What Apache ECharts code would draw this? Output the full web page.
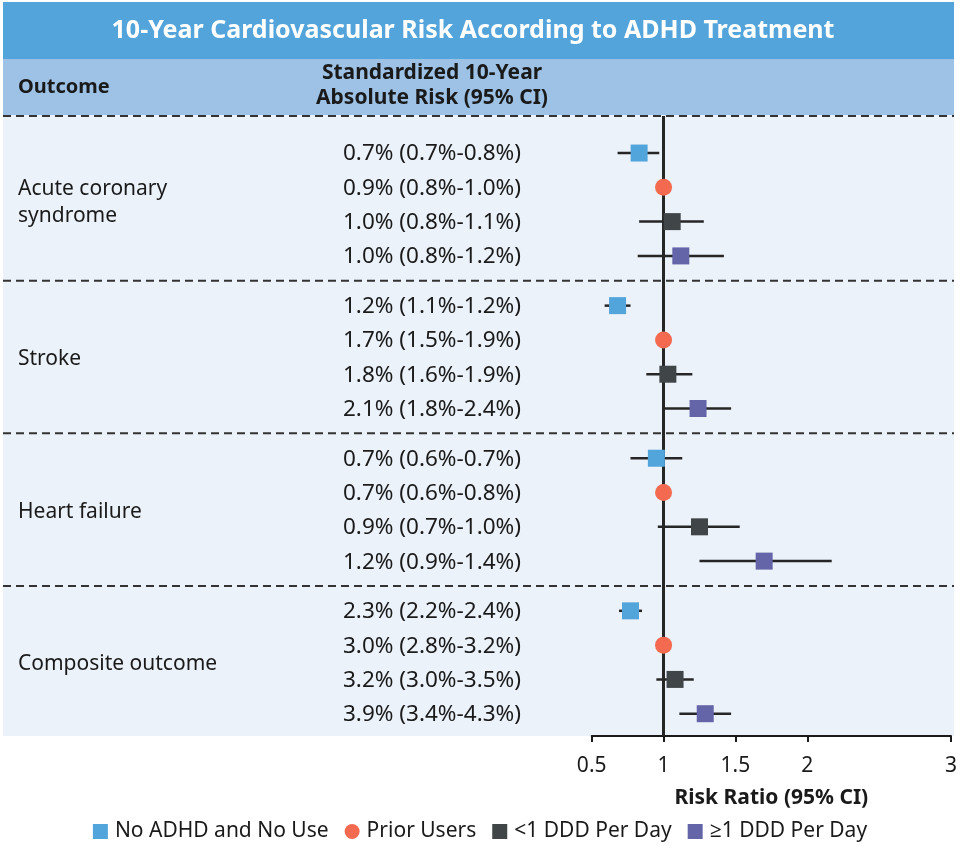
<!DOCTYPE html>
<html>
<head>
<meta charset="utf-8">
<script src="https://cdn.jsdelivr.net/npm/echarts@6/dist/echarts.min.js"></script>
<style>html,body{margin:0;padding:0;background:#fff}#c{width:960px;height:846px}</style>
</head>
<body>
<div id="c"></div>
<script>
// ---- data ----
var outcomes = ['Acute coronary\nsyndrome', 'Stroke', 'Heart failure', 'Composite outcome'];
var groups = ['No ADHD and No Use', 'Prior Users', '<1 DDD Per Day', '\u22651 DDD Per Day'];
var absRisk = [
  ['0.7% (0.7%-0.8%)', '0.9% (0.8%-1.0%)', '1.0% (0.8%-1.1%)', '1.0% (0.8%-1.2%)'],
  ['1.2% (1.1%-1.2%)', '1.7% (1.5%-1.9%)', '1.8% (1.6%-1.9%)', '2.1% (1.8%-2.4%)'],
  ['0.7% (0.6%-0.7%)', '0.7% (0.6%-0.8%)', '0.9% (0.7%-1.0%)', '1.2% (0.9%-1.4%)'],
  ['2.3% (2.2%-2.4%)', '3.0% (2.8%-3.2%)', '3.2% (3.0%-3.5%)', '3.9% (3.4%-4.3%)']
];
// risk ratios per group, one value per outcome
var rrNoUse = [0.83, 0.68, 0.95, 0.77];
var loNoUse = [0.68, 0.59, 0.77, 0.69];
var hiNoUse = [0.97, 0.77, 1.13, 0.85];
var rrPrior = [1, 1, 1, 1];
var rrLow = [1.06, 1.03, 1.25, 1.08];
var loLow = [0.83, 0.88, 0.96, 0.95];
var hiLow = [1.28, 1.20, 1.53, 1.21];
var rrHigh = [1.12, 1.24, 1.70, 1.29];
var loHigh = [0.82, 1.01, 1.25, 1.11];
var hiHigh = [1.42, 1.47, 2.17, 1.47];
var xTicks = [0.5, 1, 1.5, 2, 3];
var colors = ['#52A5DB', '#F36A50', '#404548', '#6464A8'];

// ---- layout helpers ----
var GROUP_STEP = 4.45;
function rowY(g, r) { return g * GROUP_STEP + r; }
var Y_MIN = -1.08, Y_MAX = 17.0;
var FONT = "'Noto Sans', 'Open Sans', sans-serif";

var rr = [rrNoUse, rrPrior, rrLow, rrHigh];
var lo = [loNoUse, null, loLow, loHigh];
var hi = [hiNoUse, null, hiLow, hiHigh];

var pointSeries = groups.map(function (name, gi) {
  return {
    name: name,
    type: 'scatter',
    symbol: gi === 1 ? 'circle' : 'rect',
    symbolSize: 17,
    itemStyle: { color: colors[gi], opacity: 1 },
    z: 5,
    data: outcomes.map(function (o, oi) { return [rr[gi][oi], rowY(oi, gi)]; }),
    markLine: gi === 1 ? {
      silent: true, symbol: 'none', label: { show: false },
      lineStyle: { color: '#262626', width: 3, type: 'solid' },
      data: [{ xAxis: 1 }], z: 3
    } : undefined
  };
});

var barData = [];
[0, 2, 3].forEach(function (gi) {
  outcomes.forEach(function (o, oi) {
    barData.push([lo[gi][oi], hi[gi][oi], rowY(oi, gi)]);
  });
});

var textData = [];
outcomes.forEach(function (o, oi) {
  absRisk[oi].forEach(function (t, r) { textData.push([1, rowY(oi, r), t]); });
});
var labelData = outcomes.map(function (o, oi) { return [1, rowY(oi, 1.5), o]; });
var sepData = [[1, Y_MIN]];
for (var g = 1; g < outcomes.length; g++) sepData.push([1, rowY(g, 0) - (GROUP_STEP - 3) / 2]);

var chart = echarts.init(document.getElementById('c'));
chart.setOption({
  animation: false,
  textStyle: { fontFamily: FONT },
  graphic: [
    { type: 'rect', z: -10, shape: { x: 3, y: 2, width: 951, height: 57 }, style: { fill: '#52A4DA' } },
    { type: 'rect', z: -10, shape: { x: 3, y: 59, width: 951, height: 56 }, style: { fill: '#9DC2E6' } },
    { type: 'rect', z: -10, shape: { x: 3, y: 115, width: 951, height: 621 }, style: { fill: '#EBF2FA' } },
    { type: 'text', z: 10, x: 473, y: 31, style: { text: '10-Year Cardiovascular Risk According to ADHD Treatment', fill: '#fff', font: 'bold 25px ' + FONT, textAlign: 'center', textVerticalAlign: 'middle' } },
    { type: 'text', z: 10, x: 18, y: 87, style: { text: 'Outcome', fill: '#1a1a1a', font: 'bold 20px ' + FONT, textAlign: 'left', textVerticalAlign: 'middle' } },
    { type: 'text', z: 10, x: 432, y: 86, style: { text: 'Standardized 10-Year\nAbsolute Risk (95% CI)', fill: '#1a1a1a', font: 'bold 21px ' + FONT, lineHeight: 25, textAlign: 'center', textVerticalAlign: 'middle' } }
  ],
  grid: { left: 591.7, right: 7, top: 116, bottom: 110 },
  xAxis: {
    type: 'value', min: 0.5, max: 3,
    axisLine: { show: true, onZero: false, lineStyle: { color: '#1a1a1a', width: 2 } },
    axisTick: { show: true, customValues: xTicks, length: 6, lineStyle: { color: '#1a1a1a', width: 2 } },
    axisLabel: { customValues: xTicks, fontSize: 21, color: '#1a1a1a', margin: 20, fontFamily: FONT },
    splitLine: { show: false },
    name: 'Risk Ratio (95% CI)', nameLocation: 'middle', nameGap: 52,
    nameTextStyle: { fontSize: 21, fontWeight: 'bold', color: '#1a1a1a', fontFamily: FONT }
  },
  yAxis: { type: 'value', inverse: true, min: Y_MIN, max: Y_MAX, show: false, splitLine: { show: false } },
  legend: {
    data: groups.map(function (n, i) { return { name: n, icon: i === 1 ? 'circle' : 'rect' }; }),
    top: 816, left: 'center', itemWidth: 15, itemHeight: 15, itemGap: 16,
    textStyle: { fontSize: 21, color: '#1a1a1a', fontFamily: FONT, padding: [0, 0, 0, 2] }
  },
  series: [
    {
      type: 'custom', silent: true, clip: false, z: 1,
      encode: { x: 0, y: 1 }, data: sepData,
      renderItem: function (params, api) {
        var p = api.coord([1, api.value(1)]);
        return { type: 'line', shape: { x1: 3, y1: p[1], x2: 954, y2: p[1] }, style: { stroke: '#333', lineWidth: 2, lineDash: [8, 5] } };
      }
    },
    {
      type: 'custom', silent: true, clip: false, z: 4,
      encode: { x: [0, 1], y: 2 }, data: barData,
      renderItem: function (params, api) {
        var a = api.coord([api.value(0), api.value(2)]);
        var b = api.coord([api.value(1), api.value(2)]);
        return { type: 'line', shape: { x1: a[0], y1: a[1], x2: b[0], y2: b[1] }, style: { stroke: '#262626', lineWidth: 2.5 } };
      }
    },
    {
      type: 'custom', silent: true, clip: false, z: 4,
      encode: { x: 0, y: 1 }, data: textData,
      renderItem: function (params, api) {
        var p = api.coord([1, api.value(1)]);
        return { type: 'text', x: 432, y: p[1] + 1, style: { text: textData[params.dataIndex][2], fill: '#1a1a1a', font: '22.5px ' + FONT, textAlign: 'center', textVerticalAlign: 'middle' } };
      }
    },
    {
      type: 'custom', silent: true, clip: false, z: 4,
      encode: { x: 0, y: 1 }, data: labelData,
      renderItem: function (params, api) {
        var p = api.coord([1, api.value(1)]);
        var txt = labelData[params.dataIndex][2];
        var off = txt.indexOf('\n') >= 0 ? -2 : 2;
        return { type: 'text', x: 18, y: p[1] + off, style: { text: txt, fill: '#1a1a1a', font: '21px ' + FONT, lineHeight: 27, textAlign: 'left', textVerticalAlign: 'middle' } };
      }
    }
  ].concat(pointSeries)
});
</script>
</body>
</html>
